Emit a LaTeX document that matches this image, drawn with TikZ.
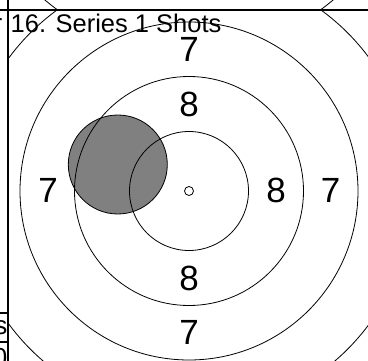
\documentclass[tikz,border=0pt]{standalone}
\usepackage{fontspec}
\setmainfont{Liberation Sans}

\begin{document}
\begin{tikzpicture}[
        x=1pt, y=-1pt,
        ring/.style={draw=black, line width=0.8pt},
        frame/.style={draw=black, line width=1.2pt},
        shot/.style={draw=black, line width=0.8pt, fill=black!50},
        score/.style={inner sep=0pt, font=\fontsize{35}{40}\selectfont},
        cell/.style={inner sep=0pt, anchor=base east, font=\fontsize{26}{30}\selectfont}
    ]
    \useasboundingbox (0,0) rectangle (368,361);
    \coordinate (centre) at (189,191);
    \coordinate (prevcentre) at (189,-171.5);
    % previous target, above the frame line
    \begin{scope}
        \clip (8,0) rectangle (368,10);
        \draw[ring] (prevcentre) circle[radius=224pt];
    \end{scope}
    % current target
    \begin{scope}
        \clip (8,10) rectangle (368,361);
        \node[score] (top7) at (189,49.5) {7};
        \node[score] (top8) at (189,104) {8};
        \node[score] (left7) at (48,190.5) {7};
        \node[score] (right8) at (276,190.5) {8};
        \node[score] (right7) at (330.5,190.5) {7};
        \node[score] (bottom8) at (189,278) {8};
        \node[score] (bottom7) at (189,332) {7};
        \draw[shot] (117.8,164.5) circle[radius=49.5pt];
        \foreach \r in {59.5,114.5,169,224}
            \draw[ring] (centre) circle[radius=\r pt];
        \draw[ring] (centre) circle[radius=4.5pt];
        \node[inner sep=0pt, anchor=base west, font=\fontsize{25.5}{30}\selectfont] (title) at (10.5,33) {16. Series 1 Shots};
    \end{scope}
    % table cells at the left
    \begin{scope}
        \clip (0,0) rectangle (8,361);
        \node[cell] (cellr) at (2.5,33) {r};
        \node[cell] (cells) at (7.5,335) {s};
        \node[cell] (cellzero) at (7.5,366.5) {0};
    \end{scope}
    \draw[frame] (0,10) -- (368,10);
    \draw[frame] (8,0) -- (8,361);
    \draw[frame] (0,313) -- (8,313);
    \draw[frame] (0,342) -- (8,342);
\end{tikzpicture}
\end{document}
